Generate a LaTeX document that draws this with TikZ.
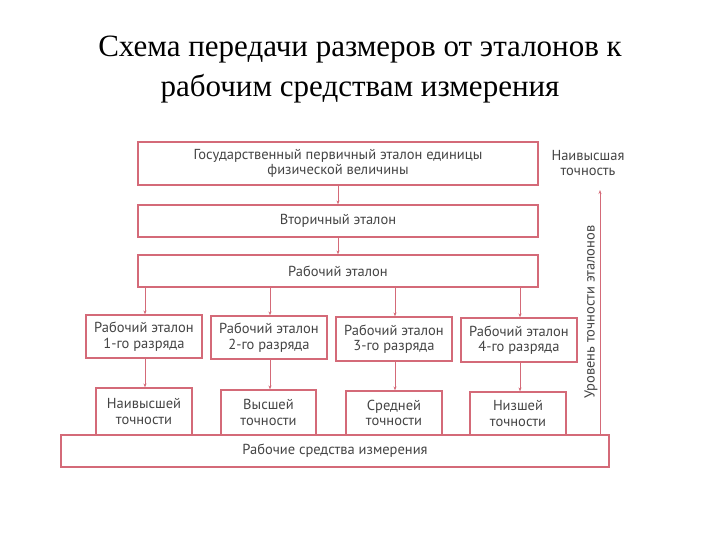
\documentclass[tikz,border=0pt]{standalone}
\usepackage{fontspec}
\setmainfont{Liberation Serif}
\newfontfamily\bodyf{PT Sans}
\usetikzlibrary{arrows.meta}
\definecolor{boxred}{HTML}{D46A78}
\definecolor{txt}{HTML}{444444}
\begin{document}
\begin{tikzpicture}[x=1pt,y=-1pt,
  bx/.style={draw=boxred,line width=1.2pt,inner sep=0pt,align=center,font=\bodyf\fontsize{14.5}{15.5}\selectfont,text=txt},
  ar/.style={draw=boxred,line width=0.8pt,-{Stealth[length=4pt,width=3pt]}}]
\useasboundingbox (0,0) rectangle (720,540);
\node[font=\fontsize{31}{40}\selectfont,align=center] (title) at (360,70) {Схема передачи размеров от эталонов к\\рабочим средствам измерения};
\node[bx,minimum width=400,minimum height=43] (a) at (338,163.5) {Государственный первичный эталон единицы\\физической величины};
\node[bx,minimum width=400,minimum height=32] (b) at (338,221) {Вторичный эталон};
\node[bx,minimum width=400,minimum height=32] (c) at (338,271) {Рабочий эталон};
\node[bx,minimum width=116,minimum height=43] (d1) at (144,336.5) {Рабочий эталон\\1-го разряда};
\node[bx,minimum width=116,minimum height=43] (d2) at (269,337.5) {Рабочий эталон\\2-го разряда};
\node[bx,minimum width=116,minimum height=44] (d3) at (394,339) {Рабочий эталон\\3-го разряда};
\node[bx,minimum width=116,minimum height=44] (d4) at (519,340) {Рабочий эталон\\4-го разряда};
\node[bx,minimum width=96,minimum height=47] (e1) at (144,411.5) {Наивысшей\\точности};
\node[bx,minimum width=95,minimum height=45] (e2) at (268.5,412.5) {Высшей\\точности};
\node[bx,minimum width=96,minimum height=44] (e3) at (394,413) {Средней\\точности};
\node[bx,minimum width=96,minimum height=43] (e4) at (518,413.5) {Низшей\\точности};
\node[bx,minimum width=548,minimum height=32,fill=white] (f) at (335,451) {Рабочие средства измерения};
\draw[ar] (a) -- (b);
\draw[ar] (b) -- (c);
\foreach \i/\x in {1/145,2/270,3/395,4/520}{
  \draw[ar] (\x,287) -- (\x,287 |- d\i.north);
  \draw[ar] (\x,0 |- d\i.south) -- (\x,0 |- e\i.north);
}
\coordinate (ps) at (600,435);
\coordinate (pe) at (600,190);
\draw[ar] (ps) -- (pe);
\node[font=\bodyf\fontsize{14.5}{15.5}\selectfont,text=txt,align=center] (top) at (588,163) {Наивысшая\\точность};
\node[font=\bodyf\fontsize{14.5}{15.5}\selectfont,text=txt,rotate=90] (lvl) at (591,312) {Уровень точности эталонов};
\end{tikzpicture}
\end{document}
